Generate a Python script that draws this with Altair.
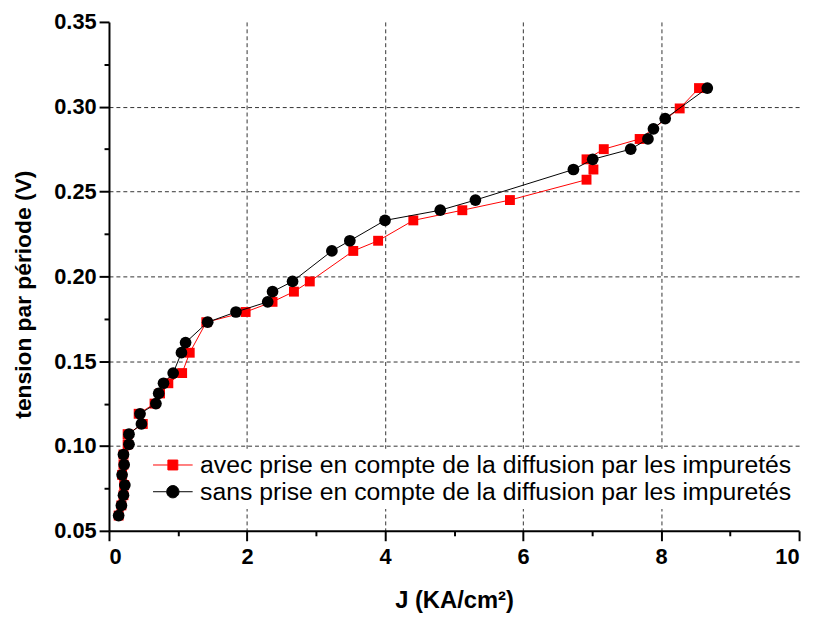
import altair as alt
import pandas as pd

# series: sans prise en compte (black circles)
black_J = [0.14, 0.18, 0.21, 0.23, 0.19, 0.22, 0.21, 0.29, 0.29, 0.47, 0.45, 0.68, 0.72, 0.79,
           0.93, 1.05, 1.11, 1.43, 1.84, 2.30, 2.37, 2.66, 3.23, 3.49, 4.0, 4.80, 5.31, 6.73,
           7.01, 7.56, 7.81, 7.89, 8.06, 8.67]
black_V = [0.059, 0.065, 0.071, 0.077, 0.083, 0.089, 0.095, 0.101, 0.107, 0.113, 0.119, 0.125,
           0.131, 0.137, 0.143, 0.155, 0.161, 0.173, 0.179, 0.185, 0.191, 0.197, 0.215, 0.221,
           0.233, 0.239, 0.245, 0.263, 0.269, 0.275, 0.281, 0.287, 0.293, 0.311]

# series: avec prise en compte (red squares)
red_J = [0.14, 0.18, 0.21, 0.22, 0.19, 0.21, 0.21, 0.27, 0.27, 0.49, 0.43, 0.66, 0.74, 0.86,
         1.06, 1.17, 1.41, 1.98, 2.37, 2.68, 2.91, 3.54, 3.90, 4.41, 5.12, 5.81, 6.92, 7.02,
         6.92, 7.17, 7.69, 8.27, 8.55]
red_V = [0.059, 0.065, 0.071, 0.077, 0.083, 0.089, 0.095, 0.101, 0.107, 0.113, 0.119, 0.125,
         0.131, 0.137, 0.143, 0.155, 0.173, 0.179, 0.185, 0.191, 0.197, 0.215, 0.221, 0.233,
         0.239, 0.245, 0.257, 0.263, 0.269, 0.275, 0.281, 0.299, 0.311]

series_names = ["avec prise en compte de la diffusion par les impuretés",
                "sans prise en compte de la diffusion par les impuretés"]
series_colors = ["red", "black"]

x_ticks = [0, 1, 2, 3, 4, 5, 6, 7, 8, 9, 10]
y_ticks = [0.05, 0.075, 0.10, 0.125, 0.15, 0.175, 0.20, 0.225, 0.25, 0.275, 0.30, 0.325, 0.35]

red_df = pd.DataFrame({"J": red_J, "V": red_V, "idx": range(len(red_J)), "s": series_names[0]})
black_df = pd.DataFrame({"J": black_J, "V": black_V, "idx": range(len(black_J)), "s": series_names[1]})

FONT = "Liberation Sans"

x_enc = alt.X("J:Q", scale=alt.Scale(domain=[0, 10], nice=False),
              axis=alt.Axis(values=x_ticks, title="J (KA/cm²)", format="d",
                            labelExpr="datum.value % 2 == 0 ? datum.label : ''",
                            tickSize={"condition": {"test": "datum.value % 2 == 0", "value": 10}, "value": 5},
                            gridOpacity={"condition": {"test": "datum.value % 2 == 0 && datum.value > 0 && datum.value < 10", "value": 1}, "value": 0},
                            grid=True, labelPadding=6, titlePadding=21, titleFontSize=24))
y_enc = alt.Y("V:Q", scale=alt.Scale(domain=[0.05, 0.35], nice=False, zero=False),
              axis=alt.Axis(values=y_ticks, title="tension par période (V)", format=".2f",
                            labelExpr="round(datum.value*1000) % 50 == 0 ? datum.label : ''",
                            tickSize={"condition": {"test": "round(datum.value*1000) % 50 == 0", "value": 10}, "value": 5},
                            gridOpacity={"condition": {"test": "round(datum.value*1000) % 50 == 0 && datum.value > 0.06 && datum.value < 0.34", "value": 1}, "value": 0},
                            grid=True, titleY=275, labelPadding=3, titlePadding=18, titleFontSize=23))

red_line = alt.Chart(red_df).mark_line(color="red", strokeWidth=1).encode(x=x_enc, y=y_enc, order="idx:Q")
red_pts = alt.Chart(red_df).mark_point(shape="square", filled=True, color="red", size=100, opacity=1).encode(x="J:Q", y="V:Q")
black_line = alt.Chart(black_df).mark_line(color="black", strokeWidth=1).encode(x="J:Q", y="V:Q", order="idx:Q")
black_pts = alt.Chart(black_df).mark_point(shape="circle", filled=True, color="black", size=140, opacity=1).encode(x="J:Q", y="V:Q")

# legend symbols: a short line with the marker in its middle
sq_path = "M-2,0H-0.5M0.5,0H2M-0.5,-0.5H0.5V0.5H-0.5Z"
ci_path = "M-2,0H-0.62M0.62,0H2M-0.62,0A0.62,0.62,0,1,0,0.62,0A0.62,0.62,0,1,0,-0.62,0Z"

leg = alt.Legend(title=None, orient="none", legendX=48, legendY=431,
                 fillColor="white", padding=4, labelFontSize=25,
                 labelFont=FONT, labelColor="black", labelLimit=0, symbolSize=400,
                 symbolStrokeWidth=1, rowPadding=1, labelOffset=15, symbolOpacity=1)

legend_layer = alt.Chart(pd.concat([red_df, black_df])).transform_filter("false").mark_point(
    opacity=1, strokeWidth=1).encode(
    x="J:Q", y="V:Q",
    fill=alt.Fill("s:N", scale=alt.Scale(domain=series_names, range=series_colors), legend=leg),
    stroke=alt.Stroke("s:N", scale=alt.Scale(domain=series_names, range=series_colors), legend=leg),
    shape=alt.Shape("s:N", scale=alt.Scale(domain=series_names, range=[sq_path, ci_path]), legend=leg),
)

chart = alt.layer(red_line, red_pts, black_line, black_pts, legend_layer).properties(
    width=697, height=514,
    autosize=alt.AutoSizeParams(type="none"),
    padding={"left": 102, "top": 11, "right": 7, "bottom": 88},
).configure_view(stroke=None).configure_axis(
    domainColor="black", domainWidth=2, tickColor="black", tickWidth=2,
    labelFont=FONT, labelFontSize=22, labelFontWeight="bold", labelColor="black",
    titleFont=FONT, titleFontWeight="bold", titleColor="black",
    gridColor="#333333", gridDash=[4, 3], gridWidth=1,
)

chart.save("out.html", embed_options={"renderer": "svg", "actions": False})
